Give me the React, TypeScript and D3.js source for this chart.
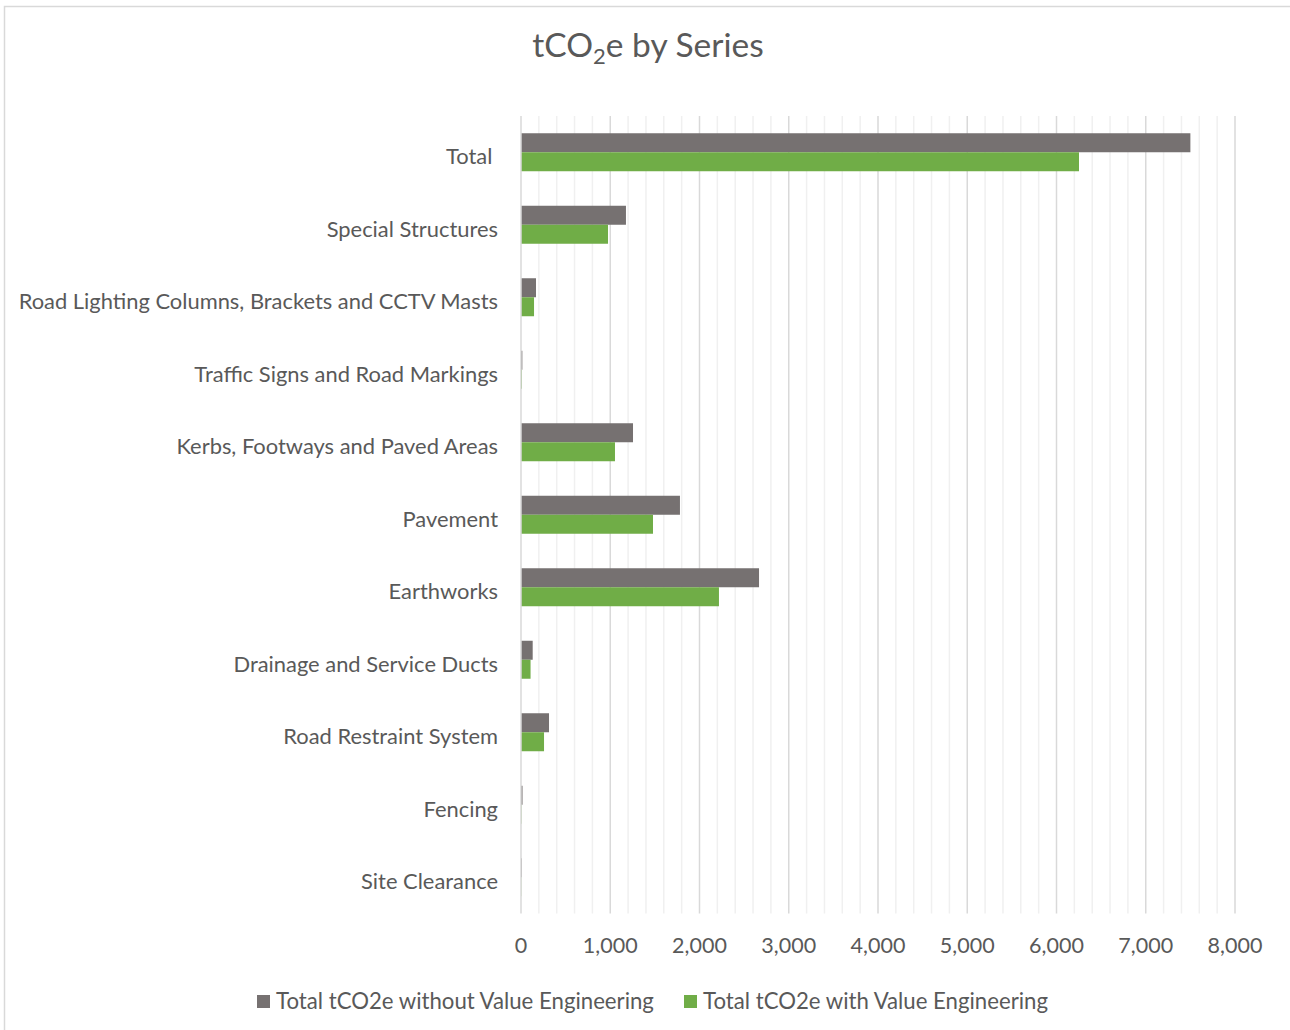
import React from "react";
import * as d3 from "d3";

const categories = [
  "Total ",
  "Special Structures",
  "Road Lighting Columns, Brackets and CCTV Masts",
  "Traffic Signs and Road Markings",
  "Kerbs, Footways and Paved Areas",
  "Pavement",
  "Earthworks",
  "Drainage and Service Ducts",
  "Road Restraint System",
  "Fencing",
  "Site Clearance",
];
const withoutVE = [7500, 1176, 168, 15, 1255, 1781, 2667, 131, 314, 17, 8];
const withVE = [6252, 975, 146, 10, 1053, 1479, 2218, 107, 258, 5, 3];
const seriesNames = [
  "Total tCO2e without Value Engineering",
  "Total tCO2e with Value Engineering",
];
const seriesColors = ["#767171", "#70ad47"];
const xTicks = [0, 1000, 2000, 3000, 4000, 5000, 6000, 7000, 8000];

const W = 1290;
const H = 1030;
const FONT = "Lato, 'Noto Sans', sans-serif";
const TEXT = "#595959";

export default function App() {
  const left = 521;
  const right = 1235;
  const top = 116;
  const bottom = 913.5;
  const x = d3.scaleLinear().domain([0, 8000]).range([left, right]);
  const y = d3
    .scaleBand<string>()
    .domain(categories)
    .range([top, bottom])
    .paddingInner(0.476)
    .paddingOuter(0.238);
  const inner = d3
    .scaleBand<number>()
    .domain([0, 1])
    .range([0, y.bandwidth()]);
  const minor = d3.range(0, 8001, 200).filter((v) => v % 1000 !== 0);
  const series = [withoutVE, withVE];

  return (
    <svg
      width={W}
      height={H}
      style={{ position: "absolute", left: 0, top: 0, background: "#fff" }}
      fontFamily={FONT}
    >
      <rect x={4.5} y={6.5} width={W + 10} height={H + 10} fill="#fff" stroke="#d9d9d9" strokeWidth={1.5} />
      <text x={648} y={57} textAnchor="middle" fontSize={33.5} fill={TEXT}>
        tCO<tspan fontSize={22} dy={7}>2</tspan>
        <tspan dy={-7}>e by Series</tspan>
      </text>
      {minor.map((v) => (
        <line key={"m" + v} x1={x(v)} x2={x(v)} y1={top} y2={bottom} stroke="#f0f0f0" strokeWidth={1.5} />
      ))}
      {xTicks.slice(1).map((v) => (
        <line key={"M" + v} x1={x(v)} x2={x(v)} y1={top} y2={bottom} stroke="#d9d9d9" strokeWidth={1.5} />
      ))}
      {categories.map((c, i) =>
        series.map((s, j) => (
          <rect
            key={c + j}
            x={x(0)}
            y={(y(c) as number) + (inner(j) as number)}
            width={x(s[i]) - x(0)}
            height={inner.bandwidth()}
            fill={seriesColors[j]}
          />
        ))
      )}
      <line x1={x(0)} x2={x(0)} y1={top} y2={bottom} stroke="#d9d9d9" strokeWidth={1.5} />
      {categories.map((c) => (
        <text
          key={"l" + c}
          x={498}
          y={(y(c) as number) + y.bandwidth() / 2 + 12}
          textAnchor="end"
          fontSize={21.9}
          fill={TEXT}
          style={{ whiteSpace: "pre" }}
        >
          {c}
        </text>
      ))}
      {xTicks.map((v) => (
        <text key={"t" + v} x={x(v)} y={953} textAnchor="middle" fontSize={21.5} fill={TEXT}>
          {d3.format(",")(v)}
        </text>
      ))}
      {seriesNames.map((n, j) => {
        const lx = [257, 684][j];
        return (
          <g key={n}>
            <rect x={lx} y={995} width={13} height={13} fill={seriesColors[j]} />
            <text x={lx + 19} y={1009} fontSize={22.2} fill={TEXT}>
              {n}
            </text>
          </g>
        );
      })}
    </svg>
  );
}
